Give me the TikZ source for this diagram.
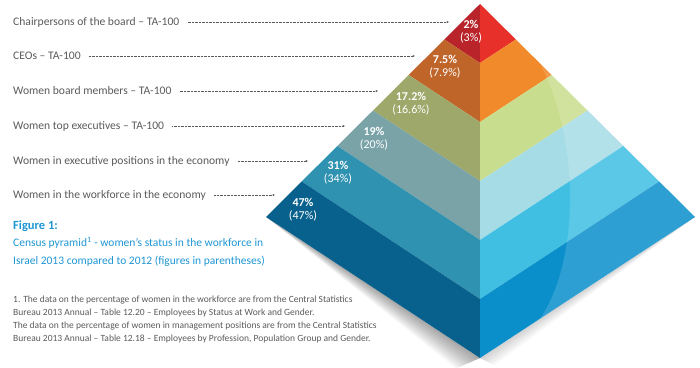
\documentclass[tikz,border=0pt]{standalone}
\usepackage{fontspec}
\setmainfont{Carlito}
\usetikzlibrary{calc,arrows.meta}
\definecolor{redL}{HTML}{B8242A}
\definecolor{redR}{HTML}{E8302A}
\definecolor{orgL}{HTML}{C0652A}
\definecolor{orgR}{HTML}{F18A2B}
\definecolor{grnL}{HTML}{9DA86A}
\definecolor{grnR}{HTML}{C9DD8E}
\definecolor{gryL}{HTML}{7AA3A8}
\definecolor{gryR}{HTML}{A6DCE6}
\definecolor{tealL}{HTML}{2E92B0}
\definecolor{tealR}{HTML}{40BFE3}
\definecolor{navyL}{HTML}{07618C}
\definecolor{navyR}{HTML}{0A8FCB}
\definecolor{labelgray}{HTML}{5A5A5A}
\definecolor{capblue}{HTML}{1E96D4}

\begin{document}
\begin{tikzpicture}[x=1pt,y=-1pt,>={Stealth[length=2.5pt,width=2pt]},
  lbl/.style={anchor=west,text=labelgray,inner sep=0pt,font=\fontsize{11.6}{13}\selectfont},
  lead/.style={->,densely dotted,labelgray,line width=0.4pt},
  pct/.style={text=white,align=center,inner sep=0pt,font=\fontsize{12}{13}\selectfont},
  note/.style={anchor=north west,inner sep=0pt,align=left}]
  \useasboundingbox (0,0) rectangle (700,367);

  % corners of the pyramid
  \coordinate (apex) at (480,4);
  \coordinate (lft) at (266,217);
  \coordinate (bot) at (480,358);
  \coordinate (rgt) at (695,217);

  % soft shadow
  \foreach \s in {2,4,...,30} {
    \fill[black,opacity=0.028] (lft) -- ($(bot)+(-0.8*\s,0.35*\s)$) -- (bot) -- cycle;
    \fill[black,opacity=0.012] (rgt) -- ($(bot)+(0.5*\s,0.25*\s)$) -- (bot) -- cycle;
  }

  % bands, top to bottom
  \foreach \k/\cl/\cr [evaluate=\k as \j using \k-1] in
      {1/redL/redR,2/orgL/orgR,3/grnL/grnR,4/gryL/gryR,5/tealL/tealR,6/navyL/navyR} {
    \fill[\cl] ($(apex)!\j/6!(lft)$) -- ($(apex)!\j/6!(bot)$)
      -- ($(apex)!\k/6!(bot)$) -- ($(apex)!\k/6!(lft)$) -- cycle;
    \fill[\cr] ($(apex)!\j/6!(bot)$) -- ($(apex)!\j/6!(rgt)$)
      -- ($(apex)!\k/6!(rgt)$) -- ($(apex)!\k/6!(bot)$) -- cycle;
  }

  % sheen on the right face
  \fill[white,opacity=0.15] ($(apex)!0.28!(rgt)$) .. controls (580,140) and (580,260)
    .. ($(bot)!0.28!(rgt)$) -- (rgt) -- cycle;

  % values
  \node[pct] (v1) at (471,32) {\textbf{2\%}\\(3\%)};
  \node[pct] (v2) at (445,67) {\textbf{7.5\%}\\(7.9\%)};
  \node[pct] (v3) at (411,104) {\textbf{17.2\%}\\(16.6\%)};
  \node[pct] (v4) at (374,139) {\textbf{19\%}\\(20\%)};
  \node[pct] (v5) at (338,173) {\textbf{31\%}\\(34\%)};
  \node[pct] (v6) at (303,210) {\textbf{47\%}\\(47\%)};

  % labels and leaders
  \node[lbl] (chair) at (13,22) {Chairpersons of the board – TA-100};
  \node[lbl] (ceo) at (13,56) {CEOs – TA-100};
  \node[lbl] (board) at (13,91) {Women board members – TA-100};
  \node[lbl] (topex) at (13,126) {Women top executives – TA-100};
  \node[lbl] (execpos) at (13,161) {Women in executive positions in the economy};
  \node[lbl] (work) at (13,195) {Women in the workforce in the economy};
  \coordinate (e1) at (449,22);
  \coordinate (e2) at (415,56);
  \coordinate (e3) at (378,91);
  \coordinate (e4) at (345,126);
  \coordinate (e5) at (308,161);
  \coordinate (e6) at (275,195);
  \draw[lead] ([xshift=8pt]chair.east) -- (e1);
  \draw[lead] ([xshift=8pt]ceo.east) -- (e2);
  \draw[lead] ([xshift=8pt]board.east) -- (e3);
  \draw[lead] ([xshift=8pt]topex.east) -- (e4);
  \draw[lead] ([xshift=8pt]execpos.east) -- (e5);
  \draw[lead] ([xshift=8pt]work.east) -- (e6);

  % caption
  \node[note,text=capblue,font=\fontsize{12.5}{14}\selectfont\bfseries] (fig) at (13,221) {Figure 1:};
  \node[note,text=capblue,font=\fontsize{11.5}{18}\selectfont] (cap) at (13,237)
    {Census pyramid\textsuperscript{1} - women's status in the workforce in\\
     Israel 2013 compared to 2012 (figures in parentheses)};

  % footnote
  \node[note,text=labelgray,font=\fontsize{9.5}{13}\selectfont] (src) at (13,296)
    {1. The data on the percentage of women in the workforce are from the Central Statistics\\
     Bureau 2013 Annual – Table 12.20 – Employees by Status at Work and Gender.\\
     The data on the percentage of women in management positions are from the Central Statistics\\
     Bureau 2013 Annual – Table 12.18 – Employees by Profession, Population Group and Gender.};
\end{tikzpicture}
\end{document}
